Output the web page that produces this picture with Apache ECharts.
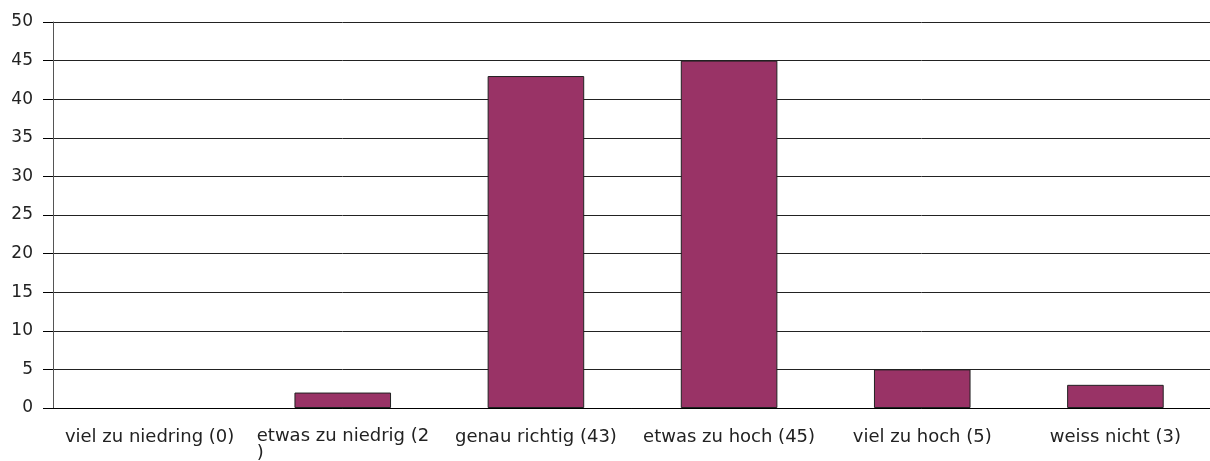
<!DOCTYPE html>
<html>
<head>
<meta charset="utf-8">
<script src="https://cdn.jsdelivr.net/npm/echarts@6/dist/echarts.min.js"></script>
<style>
  html, body { margin: 0; padding: 0; background: #fff; }
  #chart { width: 1210px; height: 461px; }
</style>
</head>
<body>
<div id="chart"></div>
<script>
let categories = ['viel zu niedring (0)', 'etwas zu niedrig (2\n)', 'genau richtig (43)',
                  'etwas zu hoch (45)', 'viel zu hoch (5)', 'weiss nicht (3)'];
let values = [0, 2, 43, 45, 5, 3];
let yTicks = [0, 5, 10, 15, 20, 25, 30, 35, 40, 45, 50];

let myChart = echarts.init(document.getElementById('chart'));

// a zero bar gets no outline, as in the original
let barData = values.map(function (v) {
    return v === 0 ? { value: v, itemStyle: { borderWidth: 0 } } : v;
});

let option = {
    animation: false,
    textStyle: { fontFamily: 'DejaVu Sans' },
    grid: { left: 53, right: -2, top: 22, bottom: 53, outerBoundsMode: 'none', containLabel: false },
    xAxis: {
        type: 'category',
        data: categories,
        axisLine: { lineStyle: { color: '#000', width: 1 } },
        axisTick: { length: 10, lineStyle: { color: '#000' } },
        axisLabel: {
            interval: 0,
            margin: 20,
            fontSize: 18,
            color: '#222',
            // wrapped label: the ")" sits at the line start like the original
            formatter: function (v) {
                if (v.indexOf('\n') < 0) return v;
                return v.split('\n').map(function (s) { return '{a|' + s + '}'; }).join('\n');
            },
            rich: {
                a: { fontSize: 18, color: '#222', width: 172, align: 'left', lineHeight: 17 }
            }
        }
    },
    yAxis: {
        type: 'value',
        min: yTicks[0],
        max: yTicks[yTicks.length - 1],
        interval: 5,
        axisLine: { show: true, lineStyle: { color: '#555', width: 1 } },
        axisTick: { show: true, length: 10, lineStyle: { color: '#000' } },
        axisLabel: { margin: 20, fontSize: 17, color: '#222' },
        splitLine: { lineStyle: { color: '#222', width: 1 } }
    },
    series: [
        {
            type: 'bar',
            data: barData,
            barWidth: '50%',
            itemStyle: { color: '#993366', borderColor: '#222', borderWidth: 1 }
        }
    ]
};

myChart.setOption(option);
</script>
</body>
</html>
